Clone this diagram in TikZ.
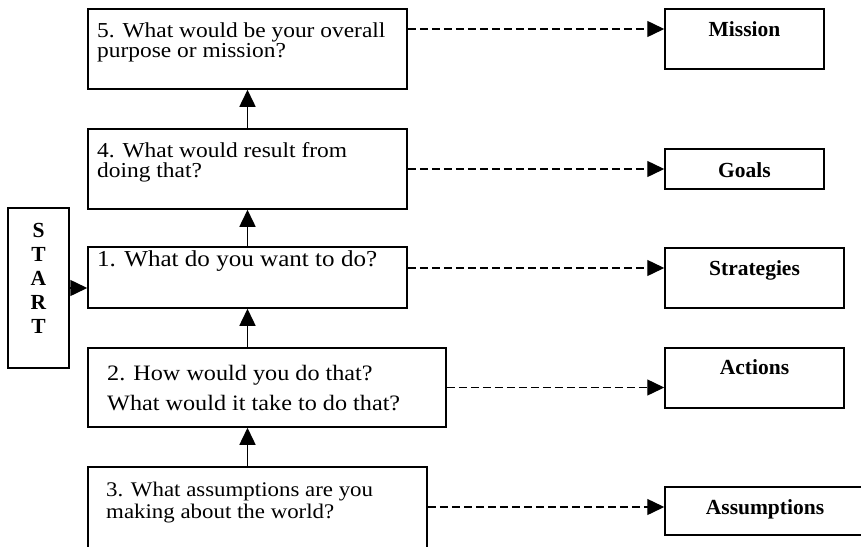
\documentclass[tikz,border=0pt]{standalone}
\usepackage{fontspec}
\setmainfont[FakeStretch=1.1]{Liberation Serif}
\newfontfamily\labfont{Liberation Serif}
\usetikzlibrary{arrows.meta}
\tikzset{
  qbox/.style={draw=black, line width=1.5pt, rectangle, inner sep=0pt},
  qtext/.style={anchor=base west, inner sep=0pt, font=\fontsize{21.3}{21.3}\selectfont},
  ltext/.style={anchor=base, inner sep=0pt, font=\labfont\fontsize{21.5}{21.5}\selectfont\bfseries},
  arr/.style={line width=1.5pt, -{Triangle[length=17pt,width=16pt]}},
  darr/.style={line width=1.4pt, dash pattern=on 8pt off 4pt, -{Triangle[length=17pt,width=16pt]}}
}
\begin{document}
\begin{tikzpicture}[x=1pt,y=-1pt]
\useasboundingbox (0,0) rectangle (861,546);
% left question boxes
\node[qbox, minimum width=319pt, minimum height=80pt] (b5) at (247.5,49) {};
\node[qbox, minimum width=319pt, minimum height=80pt] (b4) at (247.5,169) {};
\node[qbox, minimum width=319pt, minimum height=61pt] (b1) at (247.5,277.5) {};
\node[qbox, minimum width=358pt, minimum height=79pt] (b2) at (267,387.5) {};
\node[qbox, minimum width=339pt, minimum height=93pt] (b3) at (257.5,513.5) {};
\node[qbox, minimum width=61pt, minimum height=160pt] (start) at (38.5,288) {};
% texts
\node[qtext] (t5a) at (97,37) {5. What would be your overall};
\node[qtext] (t5b) at (97,57) {purpose or mission?};
\node[qtext] (t4a) at (97,157) {4. What would result from};
\node[qtext] (t4b) at (97,177) {doing that?};
\node[qtext, font=\fontsize{22.8}{22.8}\selectfont] (t1) at (97,266) {1. What do you want to do?};
\node[qtext, font=\fontsize{22}{22}\selectfont] (t2a) at (107,380) {2. How would you do that?};
\node[qtext, font=\fontsize{22}{22}\selectfont] (t2b) at (107,410) {What would it take to do that?};
\node[qtext, font=\fontsize{20.8}{20.8}\selectfont] (t3a) at (106,496) {3. What assumptions are you};
\node[qtext, font=\fontsize{20.8}{20.8}\selectfont] (t3b) at (106,518) {making about the world?};
\node[ltext] (s1) at (38.5,237) {S};
\node[ltext] (s2) at (38.5,261) {T};
\node[ltext] (s3) at (38.5,285) {A};
\node[ltext] (s4) at (38.5,309) {R};
\node[ltext] (s5) at (38.5,333) {T};
% right boxes
\node[qbox, minimum width=159pt, minimum height=60pt] (mis) at (744.5,39) {};
\node[qbox, minimum width=159pt, minimum height=40pt] (goa) at (744.5,169) {};
\node[qbox, minimum width=179pt, minimum height=60pt] (str) at (754.5,278) {};
\node[qbox, minimum width=179pt, minimum height=60pt] (act) at (754.5,378) {};
\node[qbox, minimum width=200pt, minimum height=48pt] (ass) at (765,511) {};
\node[ltext] (lm) at (744.5,36) {Mission};
\node[ltext] (lg) at (744.5,177) {Goals};
\node[ltext] (ls) at (754.5,275) {Strategies};
\node[ltext] (la) at (754.5,374) {Actions};
\node[ltext] (lx) at (765,514) {Assumptions};
% solid arrows
\draw[arr] (b4.north) -- (b5.south);
\draw[arr] (b1.north) -- (b4.south);
\draw[arr] (b1.south |- b2.north) -- (b1.south);
\draw[arr] (b1.south |- b3.north) -- (b1.south |- b2.south);
\draw[arr] (start.east) -- (start.east -| b1.west);
% dashed arrows
\coordinate (d5) at (0,29);
\coordinate (d1) at (0,268);
\coordinate (d3) at (0,507);
\draw[darr] (b5.east |- d5) -- (mis.west |- d5);
\draw[darr] (b4.east) -- (goa.west);
\draw[darr] (b1.east |- d1) -- (str.west |- d1);
\draw[darr] (b2.east) -- (b2.east -| act.west);
\draw[darr] (b3.east |- d3) -- (ass.west |- d3);
\end{tikzpicture}
\end{document}
